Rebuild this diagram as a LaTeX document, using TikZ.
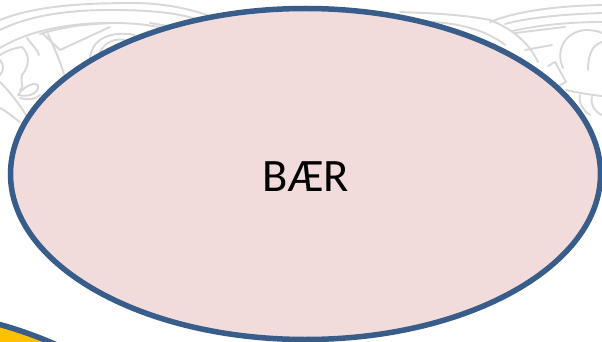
\documentclass[tikz,border=0pt]{standalone}
\usepackage{fontspec}
\setmainfont{Carlito}
\definecolor{rim}{RGB}{56,93,138}
\definecolor{petal}{RGB}{242,220,219}
\definecolor{gold}{RGB}{255,192,0}
\definecolor{orna}{RGB}{216,216,216}
\tikzset{
  ornament/.style={draw=orna,line width=1.9pt,line cap=round,line join=round},
  bigoval/.style={ellipse,draw=rim,fill=petal,line width=5.5pt,minimum width=590pt,minimum height=331pt,inner sep=0pt},
  ovaltext/.style={inner sep=0pt,font=\fontsize{46.5}{50}\selectfont,text=black},
}
\usetikzlibrary{shapes.geometric}
\begin{document}
\begin{tikzpicture}[x=1pt,y=-1pt]
\useasboundingbox (0,0) rectangle (602,342);
\fill[white] (0,0) rectangle (602,342);
% left knot
\draw[ornament] (0,20) .. controls (30,8) and (70,3) .. (133,3) .. controls (160,3) and (190,8) .. (215,18);
\draw[ornament] (0,30) .. controls (30,15) and (70,10) .. (110,10) .. controls (145,10) and (175,12) .. (200,20);
\draw[ornament] (0,48) .. controls (30,30) and (70,23) .. (110,23) .. controls (130,23) and (150,24) .. (170,30);
\draw[ornament] (40,34) .. controls (70,25) and (90,24) .. (115,23);
\draw[ornament] (42,33) -- (60,50) -- (110,27);
\draw[ornament] (150,23) -- (180,28);
\draw[ornament] (27,38) .. controls (32,45) and (38,50) .. (39,55);
\draw[ornament] (48,34) .. controls (55,50) and (62,65) .. (64,75);
\draw[ornament] (90,60) .. controls (90,40) and (110,30) .. (135,35);
\draw[ornament] (100,52) .. controls (105,42) and (115,38) .. (125,40);
\draw[ornament] (0,55) .. controls (8,50) and (15,48) .. (22,47) .. controls (30,55) and (30,65) .. (22,75) .. controls (20,85) and (25,85) .. (20,90);
\draw[ornament] (0,60) .. controls (4,65) and (4,70) .. (0,75);
\draw[ornament] (0,82) .. controls (10,92) and (20,105) .. (28,118);
\draw[ornament] (18,95) .. controls (25,85) and (35,82) .. (38,85) .. controls (40,92) and (30,98) .. (18,95);
\draw[ornament] (20,98) .. controls (28,100) and (35,100) .. (40,95);
\draw[ornament] (0,108) .. controls (8,112) and (14,118) .. (20,122);
% middle
\draw[ornament] (400,12) .. controls (425,13) and (460,14) .. (490,20) .. controls (515,30) and (530,45) .. (538,62);
\draw[ornament] (405,22) .. controls (440,20) and (480,25) .. (505,45);
% right knot
\draw[ornament] (490,22) .. controls (520,10) and (560,6) .. (602,5);
\draw[ornament] (505,24) .. controls (530,17) and (570,14) .. (602,13);
\draw[ornament] (512,31) .. controls (540,25) and (570,22) .. (602,22);
\draw[ornament] (515,33) .. controls (540,30) and (555,28) .. (565,27);
\draw[ornament] (525,50) -- (552,45);
\draw[ornament] (548,66) -- (555,62) -- (566,82) -- (555,88);
\draw[ornament] (563,68) .. controls (555,50) and (565,32) .. (585,30) .. controls (595,30) and (600,32) .. (602,33);
\draw[ornament] (588,70) .. controls (588,55) and (592,45) .. (602,42);
\draw[ornament] (566,90) .. controls (575,92) and (590,95) .. (602,96);
\draw[ornament] (580,95) .. controls (578,100) and (582,110) .. (590,115);
\draw[ornament] (592,97) .. controls (590,105) and (595,112) .. (602,115);
% lower-left yellow ellipse
\draw[rim,line width=5.5pt,fill=gold] (-30,318) .. controls (-5,322) and (25,331) .. (57,345) -- (-30,345) -- cycle;
% main ellipse
\node[bigoval] (berry) at (305.5,174) {};
\node[ovaltext] (berrytext) at (306,177) {BÆR};
\end{tikzpicture}
\end{document}
